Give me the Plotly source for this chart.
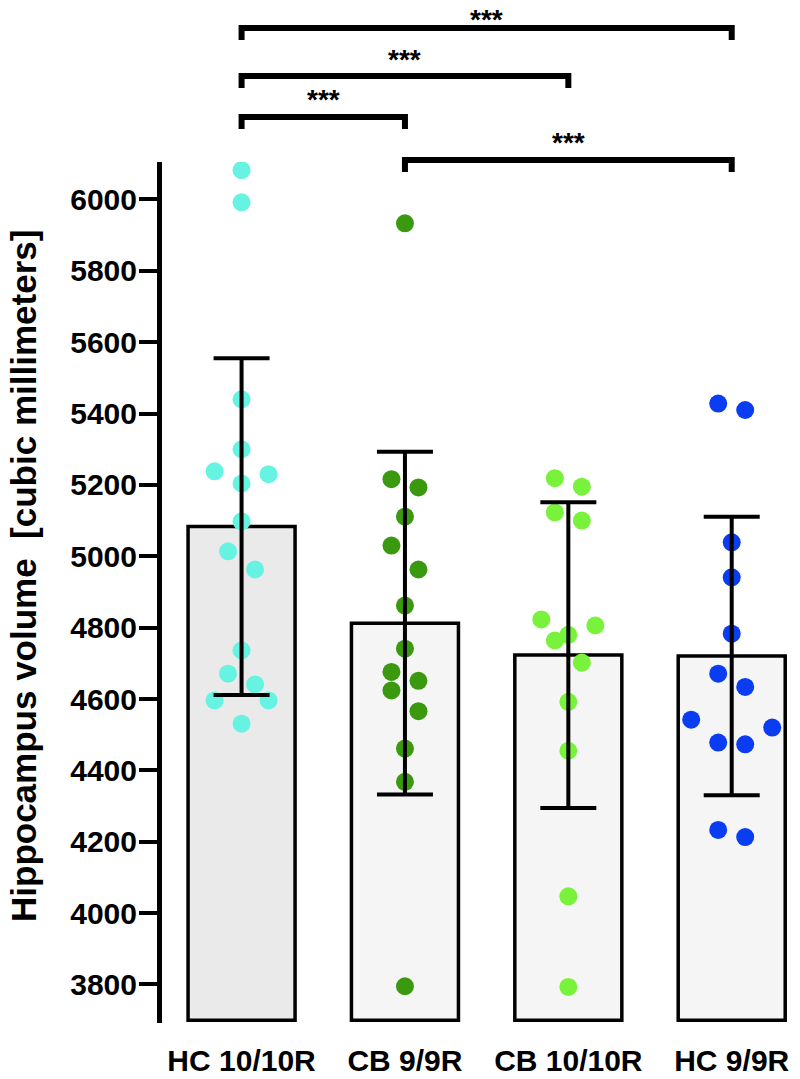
import numpy as np
import plotly.graph_objects as go

# ---------------- data ----------------
groups = ["HC 10/10R", "CB 9/9R", "CB 10/10R", "HC 9/9R"]
hc_10_10r = [6082, 5992, 5440, 5300, 5238, 5230, 5204, 5098, 5014, 4963,
             4736, 4671, 4641, 4596, 4596, 4531]
cb_9_9r = [5933, 5216, 5193, 5111, 5030, 4963, 4862, 4741, 4676, 4651,
           4624, 4566, 4461, 4368, 3795]
cb_10_10r = [5219, 5195, 5123, 5100, 4823, 4806, 4780, 4764, 4702, 4592,
             4455, 4047, 3793]
hc_9_9r = [5428, 5410, 5039, 4941, 4783, 4671, 4634, 4542, 4520, 4478,
           4473, 4233, 4213]
y_tick_values = [3800, 4000, 4200, 4400, 4600, 4800, 5000, 5200, 5400, 5600, 5800, 6000]
sig_pairs = [(0, 3), (0, 2), (0, 1), (1, 3)]
sig_labels = ["***", "***", "***", "***"]
y_title = "Hippocampus volume  [cubic millimeters]"

# ---------------- styling / layout ----------------
series = [hc_10_10r, cb_9_9r, cb_10_10r, hc_9_9r]
point_colors = ["#66F3E1", "#3A990E", "#79F23C", "#0A3CF2"]
bar_fills = ["#EAEAEA", "#F5F5F5", "#F5F5F5", "#F5F5F5"]
FONT = "Liberation Sans, Arial, Helvetica, sans-serif"

W, H = 800, 1079
M_L, M_R, M_T, M_B = 162, 0, 162, 56
X_RANGE = [-0.487, 3.418]
Y_RANGE = [3692, 6105]
BAR_BASE = 3700

plot_w = W - M_L - M_R
plot_h = H - M_T - M_B
px_per_x = plot_w / (X_RANGE[1] - X_RANGE[0])
px_per_y = plot_h / (Y_RANGE[1] - Y_RANGE[0])

MARKER_PX = 18
GROUP_PX = 26      # vertical window that forms one swarm row
STEP_PX = 27       # horizontal spacing between swarm columns


def swarm_offsets(values):
    """GraphPad-like scatter: rows formed bottom-up, spread symmetrically."""
    vals = np.asarray(values, dtype=float)
    order = np.argsort(vals, kind="stable")
    offs = np.zeros(len(vals))
    i = 0
    while i < len(order):
        start = vals[order[i]]
        grp = [order[i]]
        j = i + 1
        while j < len(order) and (vals[order[j]] - start) * px_per_y <= GROUP_PX:
            grp.append(order[j])
            j += 1
        n = len(grp)
        slots = list(np.arange(n) - (n - 1) / 2.0)
        slots.sort(key=lambda s: (-abs(s), s))
        grp.sort(key=lambda k: -vals[k])
        for k, s in zip(grp, slots):
            offs[k] = s * STEP_PX / px_per_x
        i = j
    return offs


means = [float(np.mean(s)) for s in series]
sds = [float(np.std(s, ddof=1)) for s in series]
xidx = list(range(len(groups)))

fig = go.Figure()

# bars
fig.add_trace(go.Bar(
    x=xidx, y=[m - BAR_BASE for m in means], base=BAR_BASE,
    width=0.655,
    marker=dict(color=bar_fills, line=dict(color="black", width=3.5)),
    showlegend=False, hoverinfo="skip",
))

# individual points
for gi, vals in enumerate(series):
    offs = swarm_offsets(vals)
    fig.add_trace(go.Scatter(
        x=[gi + o for o in offs], y=vals, mode="markers",
        marker=dict(size=MARKER_PX, color=point_colors[gi], line=dict(width=0)),
        showlegend=False, name=groups[gi],
    ))

# SD error bars drawn on top of the points
fig.add_trace(go.Scatter(
    x=xidx, y=means, mode="markers",
    marker=dict(size=1, color="rgba(0,0,0,0)"),
    error_y=dict(type="data", array=sds, visible=True, color="black",
                 thickness=4, width=28),
    showlegend=False, hoverinfo="skip",
))


def px_to_paper_y(py):
    return (H - M_B - py) / plot_h


def px_to_paper_x(px):
    return (px - M_L) / plot_w


# significance brackets
bracket_line_px = [28, 76, 117, 160]
DROP_PX = 12
STAR_GAP_PX = 24
shapes = []
annotations = []
for (a, b), lab, ly in zip(sig_pairs, sig_labels, bracket_line_px):
    y_line = px_to_paper_y(ly)
    y_drop = px_to_paper_y(ly + DROP_PX)
    line = dict(color="black", width=6)
    shapes.append(dict(type="line", xref="x", yref="paper", x0=a, x1=b,
                       y0=y_line, y1=y_line, line=line))
    shapes.append(dict(type="line", xref="x", yref="paper", x0=a, x1=a,
                       y0=y_line + 3 / plot_h, y1=y_drop, line=line))
    shapes.append(dict(type="line", xref="x", yref="paper", x0=b, x1=b,
                       y0=y_line + 3 / plot_h, y1=y_drop, line=line))
    star_center = max(ly - STAR_GAP_PX + 7, 19)
    annotations.append(dict(
        x=(a + b) / 2, xref="x", y=px_to_paper_y(star_center), yref="paper",
        text=lab, showarrow=False, yanchor="middle", xanchor="center",
        font=dict(family=FONT, size=28, color="black", weight="bold"),
    ))

# y-axis title placed as rotated annotation
annotations.append(dict(
    x=px_to_paper_x(23), xref="paper", y=px_to_paper_y(576), yref="paper",
    text=y_title, textangle=-90, showarrow=False,
    xanchor="center", yanchor="middle",
    font=dict(family=FONT, size=35, color="black", weight="bold"),
))

fig.update_layout(
    width=W, height=H,
    margin=dict(l=M_L, r=M_R, t=M_T, b=M_B, autoexpand=False),
    paper_bgcolor="white", plot_bgcolor="white",
    shapes=shapes, annotations=annotations,
    bargap=0.3,
    font=dict(family=FONT, color="black"),
)
fig.update_xaxes(
    range=X_RANGE, tickmode="array", tickvals=xidx, ticktext=groups,
    showline=False, showgrid=False, zeroline=False, ticks="",
    tickfont=dict(family=FONT, size=30, color="black", weight="bold"),
    ticklabelstandoff=17, automargin=False,
)
fig.update_yaxes(
    range=Y_RANGE, tickmode="array", tickvals=y_tick_values,
    showline=True, linecolor="black", linewidth=5,
    ticks="outside", ticklen=18, tickwidth=4, tickcolor="black",
    showgrid=False, zeroline=False,
    tickfont=dict(family=FONT, size=30, color="black", weight="bold"),
    ticklabelstandoff=-4,
    automargin=False,
)

fig.write_html("out.html", config={"displayModeBar": False},
               post_script="document.body.style.margin='0px';")
